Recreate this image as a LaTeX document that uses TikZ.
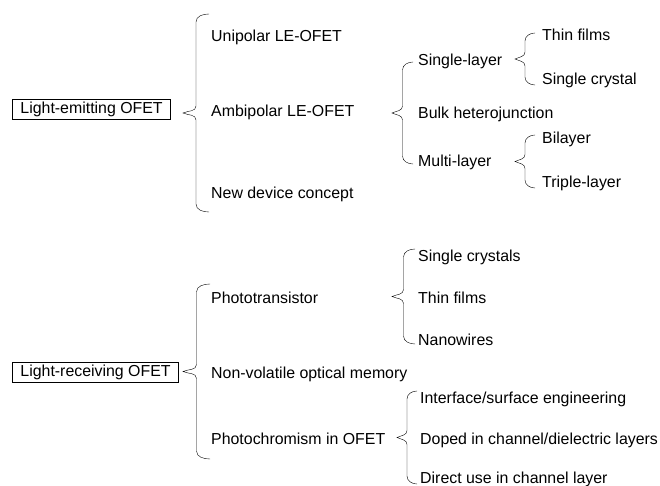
\documentclass[tikz,border=0pt]{standalone}
\usepackage{fontspec}
\setmainfont{Liberation Sans}
\usetikzlibrary{calc}

\begin{document}
\begin{tikzpicture}[x=1pt,y=-1pt,
  every node/.style={font=\fontsize{15.9}{19}\selectfont,inner sep=0pt},
  item/.style={anchor=base west},
  topic/.style={draw,line width=0.9pt,anchor=west,inner xsep=8pt,minimum height=20pt},
  curly/.style={line width=0.9pt,to path={
    let \p1=(\tikztostart), \p2=(\tikztotarget),
        \p3=($(\tikztostart)!0.5!(\tikztotarget)$), \n1={#1} in
    to[out=180,in=-90] (\x1-\n1/2,\y1+8)
    -- (\x1-\n1/2,\y3-7) to[out=90,in=-25] (\x1-\n1,\y3)
    to[out=25,in=-90] (\x1-\n1/2,\y3+7)
    -- (\x1-\n1/2,\y2-8) to[out=90,in=180] (\p2)}}]
\useasboundingbox (0,0) rectangle (660,486);

% The two boxes
\node[topic] (emit) at (12,109) {Light-emitting OFET};
\node[topic] (recv) at (12,372) {Light-receiving OFET};

% Items of the light-emitting OFET
\node[item] (uni) at (211,42) {Unipolar LE-OFET};
\node[item] (ambi) at (211,117) {Ambipolar LE-OFET};
\node[item] (newdev) at (211,199) {New device concept};

\node[item] (single) at (418,66) {Single-layer};
\node[item] (bulk) at (418,119) {Bulk heterojunction};
\node[item] (multi) at (418,167) {Multi-layer};

\node[item] (thin) at (542,41) {Thin films};
\node[item] (crystal) at (542,85) {Single crystal};
\node[item] (bilayer) at (542,144) {Bilayer};
\node[item] (triple) at (542,188) {Triple-layer};

% Items of the light-receiving OFET
\node[item] (photo) at (211,303) {Phototransistor};
\node[item] (memory) at (211,378) {Non-volatile optical memory};
\node[item] (chrom) at (211,444) {Photochromism in OFET};

\node[item] (crystals) at (418,261) {Single crystals};
\node[item] (films) at (418,303) {Thin films};
\node[item] (wires) at (418,345) {Nanowires};

\node[item] (iface) at (420,403) {Interface/surface engineering};
\node[item] (doped) at (420,444) {Doped in channel/dielectric layers};
\node[item] (direct) at (420,483) {Direct use in channel layer};

% End points of the braces
\coordinate (a1) at (209,212); \coordinate (a2) at (209,14);
\coordinate (b1) at (413,164); \coordinate (b2) at (413,62);
\coordinate (c1) at (535,85);  \coordinate (c2) at (535,33);
\coordinate (d1) at (535,188); \coordinate (d2) at (535,135);
\coordinate (e1) at (210,459); \coordinate (e2) at (210,284);
\coordinate (f1) at (415,344); \coordinate (f2) at (415,249);
\coordinate (g1) at (417,484); \coordinate (g2) at (417,391);

% The braces
\draw (a1) to[curly=26] (a2);
\draw (b1) to[curly=21] (b2);
\draw (c1) to[curly=20] (c2);
\draw (d1) to[curly=20] (d2);
\draw (e1) to[curly=27] (e2);
\draw (f1) to[curly=23] (f2);
\draw (g1) to[curly=20] (g2);

\end{tikzpicture}
\end{document}
